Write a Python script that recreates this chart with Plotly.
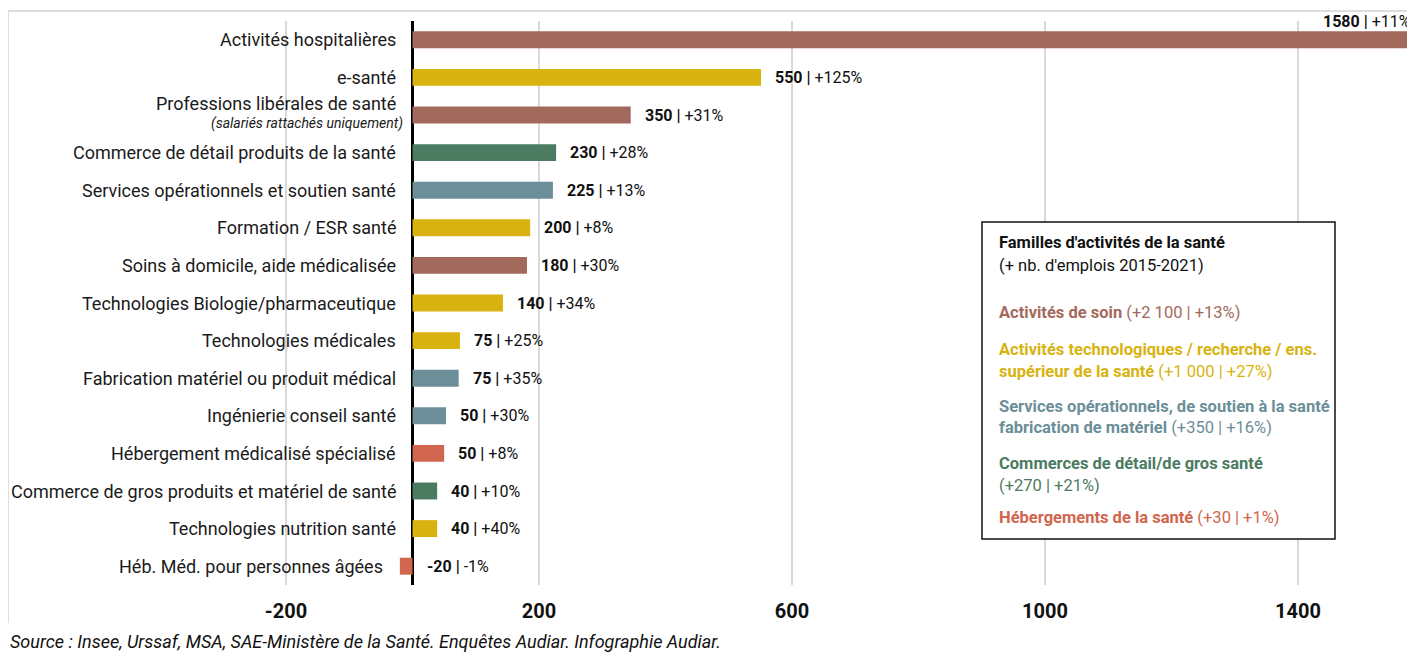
import plotly.graph_objects as go

categories = [
    "Activités hospitalières",
    "e-santé",
    "Professions libérales de santé",
    "Commerce de détail produits de la santé",
    "Services opérationnels et soutien santé",
    "Formation / ESR santé",
    "Soins à domicile, aide médicalisée",
    "Technologies Biologie/pharmaceutique",
    "Technologies médicales",
    "Fabrication matériel ou produit médical",
    "Ingénierie conseil santé",
    "Hébergement médicalisé spécialisé",
    "Commerce de gros produits et matériel de santé",
    "Technologies nutrition santé",
    "Héb. Méd. pour personnes âgées",
]
subtitles = {"Professions libérales de santé": "(salariés rattachés uniquement)"}
# bar lengths as drawn
values = [1575, 551, 345, 227, 222, 186, 181, 143, 75, 73, 53, 50, 39, 39, -20]
# printed labels
value_labels = ["1580", "550", "350", "230", "225", "200", "180", "140", "75", "75", "50", "50", "40", "40", "-20"]
pct_labels = ["+11%", "+125%", "+31%", "+28%", "+13%", "+8%", "+30%", "+34%", "+25%", "+35%", "+30%", "+8%", "+10%", "+40%", "-1%"]
families = ["soin", "tech", "soin", "commerce", "services", "tech", "soin", "tech", "tech",
            "services", "services", "heberg", "commerce", "tech", "heberg"]

family_colors = {
    "soin": "#a4695d",
    "tech": "#d8b30f",
    "services": "#6b8e98",
    "commerce": "#4b7b61",
    "heberg": "#d1654d",
}

legend_lines = [
    ("<b>Familles d'activités de la santé</b>", "#111111"),
    ("(+ nb. d'emplois 2015-2021)", "#111111"),
    ("<b>Activités de soin</b> (+2 100 | +13%)", family_colors["soin"]),
    ("<b>Activités technologiques / recherche / ens.</b>", family_colors["tech"]),
    ("<b>supérieur de la santé</b> (+1 000 | +27%)", family_colors["tech"]),
    ("<b>Services opérationnels, de soutien à la santé</b>", family_colors["services"]),
    ("<b>fabrication de matériel</b> (+350 | +16%)", family_colors["services"]),
    ("<b>Commerces de détail/de gros santé</b>", family_colors["commerce"]),
    ("(+270 | +21%)", family_colors["commerce"]),
    ("<b>Hébergements de la santé</b> (+30 | +1%)", family_colors["heberg"]),
]
legend_y_ref = [242, 265, 312, 350, 371, 406, 427, 463, 485, 517]

tick_vals = [-200, 200, 600, 1000, 1400]
tick_text = ["-200", "200", "600", "1000", "1400"]

source_text = "<i>Source : Insee, Urssaf, MSA, SAE-Ministère de la Santé. Enquêtes Audiar. Infographie Audiar.</i>"

# page body has an 8px margin: figure pixel = screen pixel - 8
OFF = 8
W, H = 1407, 649
ML, MR, MT, MB = 2, 0, 21 - OFF, H - (585 - OFF)
PW = W - ML - MR
PH = H - MT - MB
zero_px = 412.5 - OFF
scale = 0.6325
x_range = [(ML - zero_px) / scale, (W - MR - zero_px) / scale]


def px_x(sx):
    return (sx - OFF - ML) / PW


def px_y(sy):
    return (H - MB - (sy - OFF)) / PH


FONT = "Roboto"

fig = go.Figure()
fig.add_trace(go.Bar(
    x=values,
    y=categories,
    orientation="h",
    marker=dict(color=[family_colors[f] for f in families], line=dict(width=0)),
    hoverinfo="skip",
))

annotations = []
for i, (cat, v) in enumerate(zip(categories, values)):
    sub = subtitles.get(cat)
    annotations.append(dict(
        x=min(v, 0), y=cat, xref="x", yref="y", text=cat, showarrow=False,
        xanchor="right", yanchor="middle", align="right", xshift=-15,
        yshift=12 if sub else 0,
        font=dict(family=FONT, size=18, color="#1a1a1a"),
    ))
    if sub:
        annotations.append(dict(
            x=min(v, 0), y=cat, xref="x", yref="y", text=f"<i>{sub}</i>", showarrow=False,
            xanchor="right", yanchor="middle", align="right", xshift=-8, yshift=-8,
            font=dict(family=FONT, size=14, color="#1a1a1a"),
        ))
    lab = f"<b>{value_labels[i]} |</b> {pct_labels[i]}"
    if v == max(values):
        annotations.append(dict(
            x=v, y=cat, xref="x", yref="y", text=lab, showarrow=False,
            xanchor="right", yanchor="middle", xshift=4, yshift=18,
            font=dict(family=FONT, size=16, color="#111111"),
        ))
    else:
        annotations.append(dict(
            x=max(v, 0), y=cat, xref="x", yref="y", text=lab, showarrow=False,
            xanchor="left", yanchor="middle", xshift=12,
            font=dict(family=FONT, size=16, color="#111111"),
        ))

for (txt, col), sy in zip(legend_lines, legend_y_ref):
    annotations.append(dict(
        x=px_x(997), y=px_y(sy), xref="paper", yref="paper", text=txt, showarrow=False,
        xanchor="left", yanchor="middle", align="left",
        font=dict(family=FONT, size=16.5, color=col),
    ))

annotations.append(dict(
    x=px_x(8), y=px_y(641), xref="paper", yref="paper", text=source_text, showarrow=False,
    xanchor="left", yanchor="middle",
    font=dict(family=FONT, size=18, color="#111111"),
))

shapes = [
    # outer frame (left and top)
    dict(type="line", xref="paper", yref="paper", x0=px_x(8), x1=px_x(8), y0=px_y(11), y1=px_y(623),
         line=dict(color="#dedede", width=2), layer="below"),
    dict(type="line", xref="paper", yref="paper", x0=px_x(8), x1=px_x(1416), y0=px_y(11), y1=px_y(11),
         line=dict(color="#dedede", width=2), layer="below"),
    # legend box
    dict(type="rect", xref="paper", yref="paper", x0=px_x(982), x1=px_x(1335), y0=px_y(539), y1=px_y(222),
         line=dict(color="#111111", width=1.5), fillcolor="white", layer="above"),
]

fig.update_layout(
    width=W, height=H,
    margin=dict(l=ML, r=MR, t=MT, b=MB),
    paper_bgcolor="white", plot_bgcolor="white",
    showlegend=False,
    bargap=0.55,
    xaxis=dict(
        range=x_range, tickvals=tick_vals, ticktext=tick_text,
        showgrid=True, gridcolor="#d9d9d9", gridwidth=1.5,
        zeroline=True, zerolinecolor="#000000", zerolinewidth=3,
        showline=False, ticks="", ticklabelstandoff=12,
        tickfont=dict(family=FONT, size=20, color="#111111", weight="bold"),
        fixedrange=True,
    ),
    yaxis=dict(
        autorange="reversed", showticklabels=False, showgrid=False,
        zeroline=False, showline=False, ticks="", fixedrange=True,
    ),
    annotations=annotations,
    shapes=shapes,
)

fig.write_html("out.html")
